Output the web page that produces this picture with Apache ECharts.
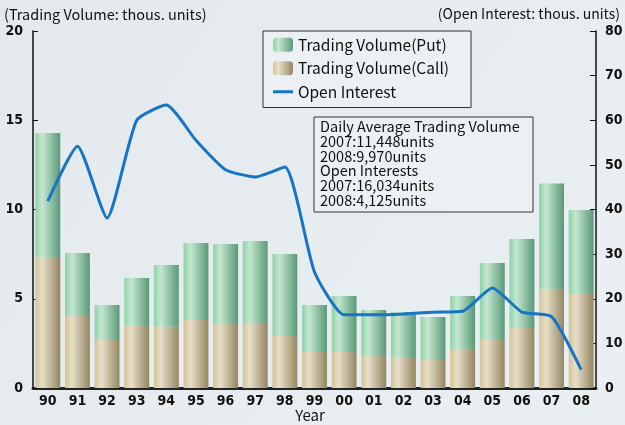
<!DOCTYPE html>
<html><head><meta charset="utf-8">
<script src="https://cdn.jsdelivr.net/npm/echarts@6/dist/echarts.min.js"></script>
<style>html,body{margin:0;padding:0;background:#e8edf1}#c{width:625px;height:425px}</style>
</head><body><div id="c"></div>
<script>
var years = ['90','91','92','93','94','95','96','97','98','99','00','01','02','03','04','05','06','07','08'];
var callVol = [7.34,4.03,2.69,3.53,3.43,3.81,3.64,3.64,2.91,2.02,2.02,1.79,1.74,1.57,2.18,2.74,3.42,5.55,5.27];
var putVol  = [6.95,3.53,1.96,2.63,3.46,4.31,4.43,4.60,4.60,2.63,3.13,2.58,2.52,2.41,2.97,4.26,4.93,5.90,4.70];
var openInterest = [41.9,54.2,38.1,60.0,63.4,55.5,48.9,47.3,49.5,26.0,16.4,16.4,16.6,17.0,17.2,22.4,17.0,16.0,4.1];
var leftTicks = [0,5,10,15,20];
var rightTicks = [0,10,20,30,40,50,60,70,80];
var infoLines = ['Daily Average Trading Volume','2007:11,448units','2008:9,970units','Open Interests','2007:16,034units','2008:4,125units'];

var numFont = '"DejaVu Sans Condensed","Liberation Sans Narrow",sans-serif';
var txtFont = '"Noto Sans CJK JP","Noto Sans",sans-serif';
function grad(a,b,c){return new echarts.graphic.LinearGradient(0,0,1,0,[{offset:0,color:a},{offset:0.28,color:b},{offset:1,color:c}]);}

var chart = echarts.init(document.getElementById('c'));
chart.setOption({
  backgroundColor: new echarts.graphic.LinearGradient(0,0,1,1,[{offset:0,color:'#e4e9ee'},{offset:1,color:'#eaeff3'}]),
  animation:false,
  grid:{left:33,right:29,top:31,bottom:37,containLabel:false,outerBoundsMode:'none'},
  legend:{
    orient:'vertical', left:263, top:31,
    padding:[6,22,8,10], itemGap:8, itemWidth:20, itemHeight:14,
    borderColor:'#333', borderWidth:1, backgroundColor:'rgba(240,243,246,0.6)',
    textStyle:{fontFamily:txtFont,fontSize:15.5,color:'#111',width:150},
    data:[{name:'Trading Volume(Put)'},{name:'Trading Volume(Call)'},{name:'Open Interest',icon:'path://M0,6 L20,6 L20,9 L0,9 Z'}]
  },
  xAxis:{
    type:'category', data:years,
    axisLine:{lineStyle:{color:'#222',width:3}},
    axisTick:{show:false},
    axisLabel:{fontFamily:numFont,fontWeight:'bold',fontSize:14,color:'#111',margin:6}
  },
  yAxis:[{
    type:'value', min:0, max:20, interval:5,
    axisLine:{show:true,lineStyle:{color:'#111',width:1.5}},
    axisTick:{show:true,inside:true,length:5,lineStyle:{color:'#111'}},
    axisLabel:{fontFamily:numFont,fontWeight:'bold',fontSize:14,color:'#111',margin:10},
    splitLine:{show:false}
  },{
    type:'value', min:0, max:80, interval:10, position:'right',
    axisLine:{show:true,lineStyle:{color:'#111',width:1.5}},
    axisTick:{show:true,inside:true,length:6,lineStyle:{color:'#111'}},
    axisLabel:{fontFamily:numFont,fontWeight:'bold',fontSize:14,color:'#111',margin:9},
    splitLine:{show:false}
  }],
  series:[
    {name:'Trading Volume(Call)',type:'bar',stack:'v',barWidth:'84%',data:callVol,
     itemStyle:{color:grad('#d3c396','#e8dfc8','#948662')}},
    {name:'Trading Volume(Put)',type:'bar',stack:'v',barWidth:'84%',data:putVol,
     itemStyle:{color:grad('#8fd1a7','#c3e8d0','#5a9878')}},
    {name:'Open Interest',type:'line',yAxisIndex:1,data:openInterest,smooth:0.18,
     symbol:'none',lineStyle:{color:'#1874c4',width:3},itemStyle:{color:'#1874c4'}}
  ],
  graphic:[
    {type:'text',left:4,top:7,style:{text:'(Trading Volume: thous. units)',font:'14.5px '+txtFont,fill:'#111'}},
    {type:'text',right:5,top:7,style:{text:'(Open Interest: thous. units)',font:'14px '+txtFont,fill:'#111'}},
    {type:'text',x:310,y:415,style:{text:'Year',font:'15px '+txtFont,fill:'#111',align:'center',verticalAlign:'middle'}},
    {type:'rect',shape:{x:314,y:117,width:219,height:95},style:{fill:'rgba(240,243,246,0.6)',stroke:'#333',lineWidth:1}},
    {type:'text',x:320,y:119,style:{text:infoLines.join('\n'),font:'14.5px '+txtFont,lineHeight:14.8,fill:'#111'}}
  ]
});
</script></body></html>
